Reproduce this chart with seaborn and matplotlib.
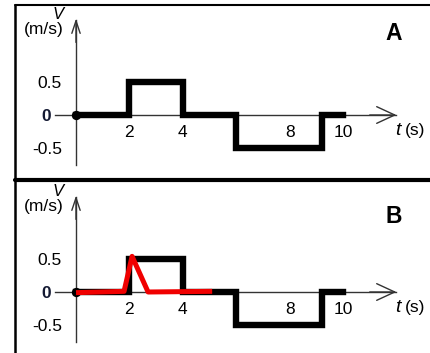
import pandas as pd
import matplotlib
matplotlib.use("Agg")
import matplotlib.pyplot as plt
import seaborn as sns
from matplotlib.lines import Line2D

# ================= DATA =================
step_t = [0, 2, 4, 6, 9.2, 10]
step_v = [0, 0.5, 0, -0.5, 0, 0]
red_t = [0, 1.8, 2.1, 2.7, 5.1]
red_v = [-0.01, 0.01, 0.54, 0.0, 0.01]
x_ticks = [2, 4, 8, 10]
y_ticks = [-0.5, 0, 0.5]
y_tick_labels = ["-0.5", "0", "0.5"]
panel_labels = ["A", "B"]

# ================= LAYOUT (pixels of the 430x353 picture) =================
W, H = 430, 353
X0_PX, PX_PER_S, PX_PER_V = 76, 26.7, 66
LEFT_PX = 15
panels = [
    dict(top=5, bottom=180, zero=115, letter_v=1.24),
    dict(top=180, bottom=353, zero=292, letter_v=1.15),
]
AXIS_COLOR = "#333333"

sns.set_theme(style="white")
plt.rcParams["font.family"] = ["Liberation Sans", "DejaVu Sans"]
plt.rcParams["text.color"] = "black"

step_df = pd.DataFrame({"t": step_t, "v": step_v})
red_df = pd.DataFrame({"t": red_t, "v": red_v})

fig = plt.figure(figsize=(W / 100, H / 100), dpi=100)

for i, p in enumerate(panels):
    ax = fig.add_axes([LEFT_PX / W, 1 - p["bottom"] / H,
                       (W - LEFT_PX) / W, (p["bottom"] - p["top"]) / H])
    ax.set_facecolor("none")
    ax.set_xlim((LEFT_PX - X0_PX) / PX_PER_S, (W - X0_PX) / PX_PER_S)
    ax.set_ylim((p["zero"] - p["bottom"]) / PX_PER_V, (p["zero"] - p["top"]) / PX_PER_V)

    # axes through the origin
    for side in ["top", "right"]:
        ax.spines[side].set_visible(False)
    ax.spines["left"].set_position(("data", 0))
    ax.spines["bottom"].set_position(("data", 0))
    ax.spines["left"].set_bounds(-0.76, 1.44)
    ax.spines["bottom"].set_bounds(-0.8, 12.0)
    for side in ["left", "bottom"]:
        ax.spines[side].set_color(AXIS_COLOR)
        ax.spines[side].set_linewidth(1.0)
        ax.spines[side].set_zorder(1)

    ax.annotate("", xy=(0, 1.46), xytext=(0, 1.1),
                arrowprops=dict(arrowstyle="->,head_length=0.9,head_width=0.3",
                                lw=1.0, color=AXIS_COLOR, shrinkA=0, shrinkB=0,
                                mutation_scale=10))
    ax.annotate("", xy=(12.0, 0), xytext=(11.0, 0),
                arrowprops=dict(arrowstyle="->,head_length=1.3,head_width=0.6",
                                lw=1.0, color=AXIS_COLOR, shrinkA=0, shrinkB=0,
                                mutation_scale=10))

    ax.set_xticks(x_ticks)
    ax.set_yticks(y_ticks, y_tick_labels)
    ax.tick_params(axis="x", direction="out", length=3, width=1, color=AXIS_COLOR,
                   pad=4.5, labelsize=12.5, labelcolor="black")
    ax.tick_params(axis="y", direction="out", length=7, width=1, color=AXIS_COLOR,
                   pad=3, labelsize=12.5, labelcolor="black")
    zero_tick = ax.yaxis.get_major_ticks()[1]
    zero_tick.tick1line.set_visible(False)
    zero_tick.set_pad(11)
    zero_tick.label1.set_fontweight("bold")
    zero_tick.label1.set_color("#141a33")

    # velocity trace
    sns.lineplot(data=step_df, x="t", y="v", drawstyle="steps-post", color="black",
                 lw=4.6, estimator=None, sort=False, ax=ax, zorder=2,
                 solid_joinstyle="miter", solid_capstyle="projecting")
    sns.scatterplot(x=step_t[:1], y=step_v[:1], color="black", s=45, ax=ax,
                    zorder=2, linewidth=0)
    if i == 1:
        sns.lineplot(data=red_df, x="t", y="v", color="#f00000", lw=3.6,
                     estimator=None, sort=False, ax=ax, zorder=3,
                     solid_capstyle="butt")
    ax.set_xlabel("")
    ax.set_ylabel("")

    # labels
    ax.text(-0.67, 1.52, "V", fontsize=12, style="italic", ha="center", va="center")
    ax.text(-1.2, 1.29, "(m/s)", fontsize=12.5, ha="center", va="center")
    ax.text(12.06, -0.24, "t", fontsize=14, style="italic", ha="center", va="center")
    ax.text(12.3, -0.24, "(s)", fontsize=12.5, ha="left", va="center")
    ax.text(11.9, p["letter_v"], panel_labels[i], fontsize=16.5, fontweight="bold",
            ha="center", va="center")

# frame around the two panels
fig.add_artist(Line2D([LEFT_PX / W, LEFT_PX / W], [1 - 5 / H, 0], color="black",
                      lw=1.8, transform=fig.transFigure))
fig.add_artist(Line2D([LEFT_PX / W, 1], [1 - 5 / H, 1 - 5 / H], color="black",
                      lw=1.5, transform=fig.transFigure))
fig.add_artist(Line2D([LEFT_PX / W, 1], [1 - 180 / H, 1 - 180 / H], color="black",
                      lw=3.0, transform=fig.transFigure))

fig.savefig("out.png", dpi=100)
